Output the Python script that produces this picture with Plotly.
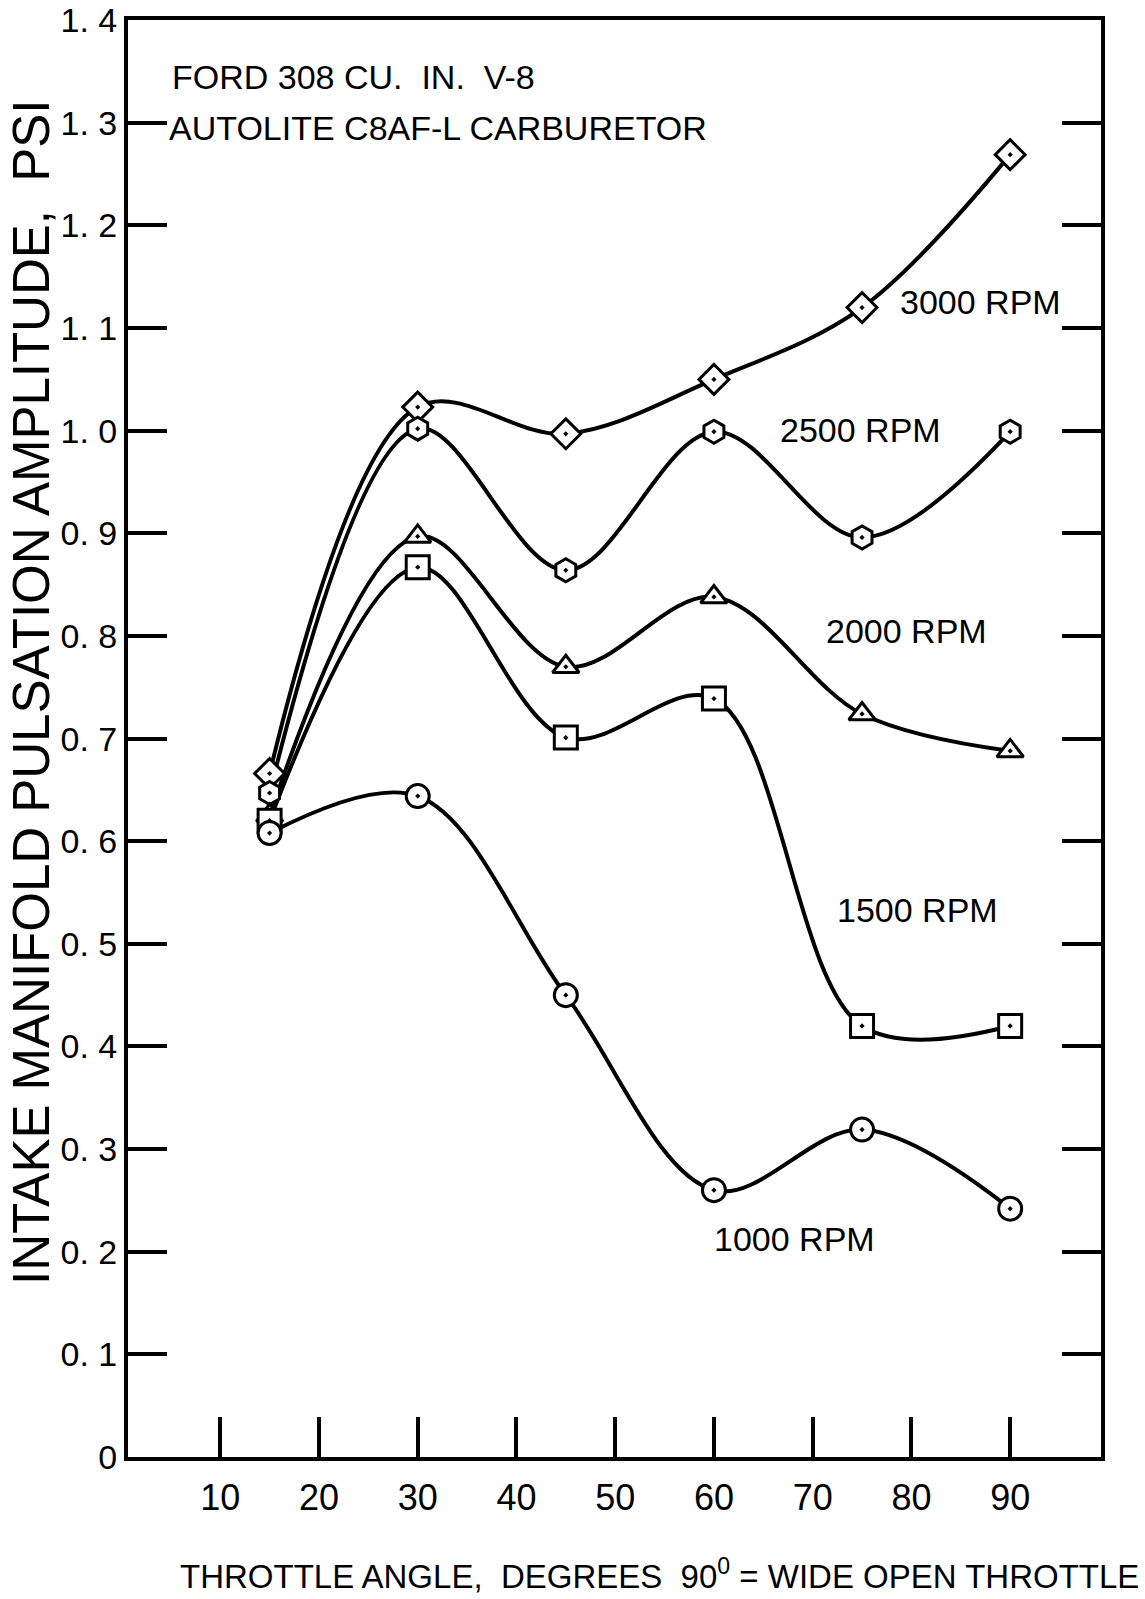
import plotly.graph_objects as go

# ---- data ----
throttle_angle = [15, 30, 45, 60, 75, 90]
rpm_3000 = [0.666, 1.023, 0.997, 1.050, 1.120, 1.269]
rpm_2500 = [0.647, 1.002, 0.864, 0.999, 0.896, 0.999]
rpm_2000 = [0.625, 0.897, 0.770, 0.838, 0.724, 0.688]
rpm_1500 = [0.620, 0.867, 0.701, 0.739, 0.420, 0.420]
rpm_1000 = [0.608, 0.644, 0.450, 0.260, 0.319, 0.242]

series_names = ["3000 RPM", "2500 RPM", "2000 RPM", "1500 RPM", "1000 RPM"]
series_values = [rpm_3000, rpm_2500, rpm_2000, rpm_1500, rpm_1000]
series_symbols = ["diamond-dot", "hexagon-dot", "triangle-up-dot", "square-dot", "circle-dot"]

# label positions (data coords) for curve labels
label_x = [78.6, 66.5, 71.1, 72.3, 59.8]
label_y = [1.125, 1.001, 0.805, 0.533, 0.212]

x_tick_vals = [10, 20, 30, 40, 50, 60, 70, 80, 90]
y_tick_vals = [0, 0.1, 0.2, 0.3, 0.4, 0.5, 0.6, 0.7, 0.8, 0.9, 1.0, 1.1, 1.2, 1.3, 1.4]
y_tick_text = ["0", "0. 1", "0. 2", "0. 3", "0. 4", "0. 5", "0. 6", "0. 7",
               "0. 8", "0. 9", "1. 0", "1. 1", "1. 2", "1. 3", "1. 4"]

title_lines = ["FORD 308 CU.  IN.  V-8", "AUTOLITE C8AF-L CARBURETOR"]
x_title = "THROTTLE ANGLE,  DEGREES  90<sup>0</sup> = WIDE OPEN THROTTLE"
y_title = "INTAKE MANIFOLD PULSATION AMPLITUDE,  PSI"

FONT = "Liberation Sans, Arial, sans-serif"

W, H = 1145, 1599
ML, MR, MT, MB = 128, 44, 20, 142
pw, ph = W - ML - MR, H - MT - MB


def paper_x(px):
    return (px - ML) / pw


def paper_y(py):
    return (H - MB - py) / ph


fig = go.Figure()

# curves first
for name, vals in zip(series_names, series_values):
    fig.add_trace(go.Scatter(
        x=throttle_angle, y=vals, mode="lines", name=name,
        line=dict(color="black", width=4, shape="spline", smoothing=1.0),
        showlegend=False, hoverinfo="skip"))

# markers on top
for name, vals, sym in zip(series_names, series_values, series_symbols):
    fig.add_trace(go.Scatter(
        x=throttle_angle, y=vals, mode="markers", name=name,
        marker=dict(symbol=sym, size=23, color="white",
                    line=dict(color="black", width=3)),
        showlegend=False))

annotations = []
for name, lx, ly in zip(series_names, label_x, label_y):
    annotations.append(dict(x=lx, y=ly, xref="x", yref="y", text=name,
                            showarrow=False, xanchor="left", yanchor="middle",
                            font=dict(family=FONT, size=34, color="black")))

annotations.append(dict(x=4.9, y=1.345, xref="x", yref="y", text=title_lines[0],
                        showarrow=False, xanchor="left", yanchor="middle",
                        font=dict(family=FONT, size=34, color="black")))
annotations.append(dict(x=4.6, y=1.295, xref="x", yref="y", text=title_lines[1],
                        showarrow=False, xanchor="left", yanchor="middle",
                        font=dict(family=FONT, size=34, color="black")))

annotations.append(dict(x=paper_x(659), y=paper_y(1574), xref="paper", yref="paper",
                        text=x_title, showarrow=False, xanchor="center", yanchor="middle",
                        font=dict(family=FONT, size=33, color="black")))
annotations.append(dict(x=paper_x(31), y=paper_y(692), xref="paper", yref="paper",
                        text=y_title, showarrow=False, xanchor="center", yanchor="middle",
                        textangle=-90,
                        font=dict(family=FONT, size=51, color="black")))

fig.update_layout(
    width=W, height=H,
    margin=dict(l=ML, r=MR, t=MT, b=MB, pad=0, autoexpand=False),
    paper_bgcolor="white", plot_bgcolor="white",
    annotations=annotations,
    showlegend=False,
    xaxis=dict(range=[0.66, 99.2], tickvals=x_tick_vals,
               ticktext=[str(v) for v in x_tick_vals],
               ticks="inside", ticklen=40, tickwidth=4, tickcolor="black",
               showline=True, linewidth=4, linecolor="black", mirror=True,
               showgrid=False, zeroline=False, ticklabelstandoff=6,
               automargin=False, ticklabeloverflow="allow",
               tickfont=dict(family=FONT, size=36, color="black")),
    yaxis=dict(range=[0, 1.4002], tickvals=y_tick_vals, ticktext=y_tick_text,
               ticks="inside", ticklen=39, tickwidth=4, tickcolor="black",
               showline=True, linewidth=4, linecolor="black", mirror="ticks",
               showgrid=False, zeroline=False, ticklabelstandoff=0,
               automargin=False, ticklabeloverflow="allow",
               tickfont=dict(family=FONT, size=34, color="black")),
)

fig.write_html("out.html")
